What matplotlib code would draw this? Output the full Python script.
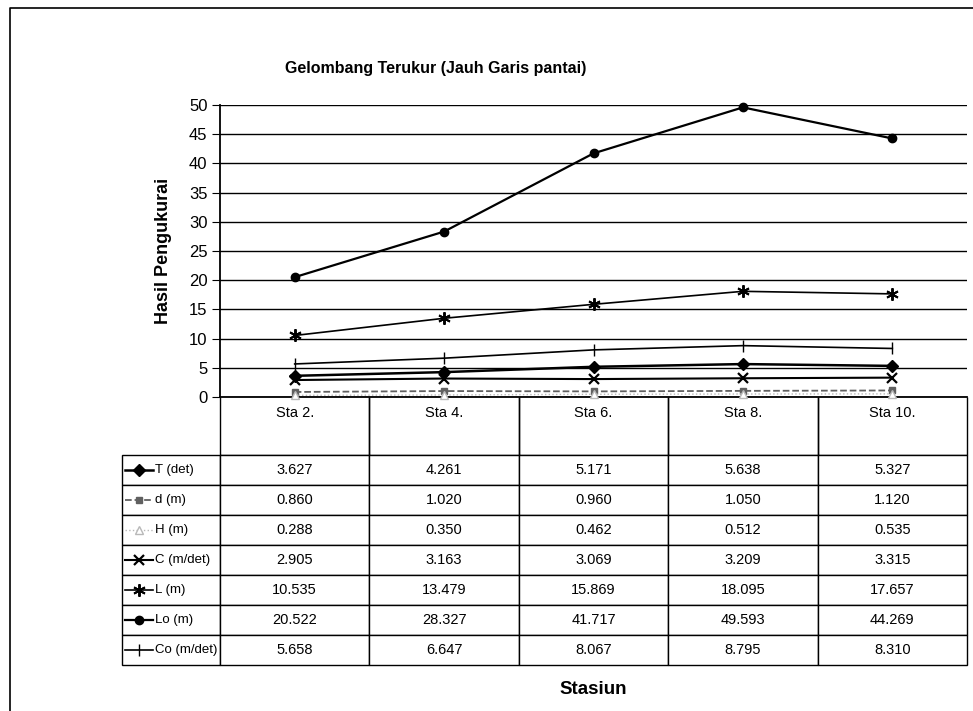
import matplotlib
matplotlib.use("Agg")
from matplotlib import pyplot as plt
from matplotlib.lines import Line2D
import numpy as np

plt.rcParams['font.family'] = ['Liberation Sans', 'DejaVu Sans']

stations = ['Sta 2.', 'Sta 4.', 'Sta 6.', 'Sta 8.', 'Sta 10.']
T_det = [3.627, 4.261, 5.171, 5.638, 5.327]
d_m = [0.860, 1.020, 0.960, 1.050, 1.120]
H_m = [0.288, 0.350, 0.462, 0.512, 0.535]
C_mdet = [2.905, 3.163, 3.069, 3.209, 3.315]
L_m = [10.535, 13.479, 15.869, 18.095, 17.657]
Lo_m = [20.522, 28.327, 41.717, 49.593, 44.269]
Co_mdet = [5.658, 6.647, 8.067, 8.795, 8.310]

names = ['T (det)', 'd (m)', 'H (m)', 'C (m/det)', 'L (m)', 'Lo (m)', 'Co (m/det)']
series = [T_det, d_m, H_m, C_mdet, L_m, Lo_m, Co_mdet]
styles = [
    dict(color='black', marker='D', ms=6, mfc='black', lw=1.8),
    dict(color='#606060', marker='s', ms=5, mfc='#606060', lw=1.3, ls='--'),
    dict(color='#b8b8b8', marker='^', ms=6, mfc='white', lw=1.0, ls=':'),
    dict(color='black', marker='x', ms=7, mew=1.6, lw=1.5),
    dict(color='black', marker=(6, 2, 0), ms=9, mew=1.4, lw=1.2),
    dict(color='black', marker='o', ms=6, mfc='black', lw=1.6),
    dict(color='black', marker='|', ms=9, mew=1.0, lw=1.2),
]

W, H = 973, 711
fig = plt.figure(figsize=(W / 100, H / 100), dpi=100)

# plot area in pixels
px_l, px_r, px_t, px_b = 220, 967, 105, 397
ax = fig.add_axes([px_l / W, 1 - px_b / H, (px_r - px_l) / W, (px_b - px_t) / H])

x = np.arange(len(stations))
for vals, st in zip(series, styles):
    ax.plot(x, vals, **st, clip_on=False, zorder=3)

ax.set_xlim(-0.5, len(stations) - 0.5)
ax.set_ylim(0, 50)
ax.set_yticks(np.arange(0, 51, 5))
ax.set_xticks([])
ax.grid(axis='y', color='black', linewidth=1.0)
ax.set_axisbelow(True)
for s in ['top', 'right']:
    ax.spines[s].set_visible(False)
ax.spines['left'].set_linewidth(1.3)
ax.spines['bottom'].set_linewidth(1.3)
ax.tick_params(axis='y', direction='out', length=6, labelsize=12, pad=3)
ax.set_ylabel('Hasil Pengukurai', fontsize=13, fontweight='bold', labelpad=12)

# data table under the plot
lab_l = 122
hdr_h, row_h = 58, 30
tab_b = px_b + hdr_h + row_h * len(names)
col_w = (px_r - px_l) / len(stations)
cell_text = [[''] + ['%.3f' % v for v in vals] for vals in series]
tab = ax.table(cellText=cell_text, colLabels=[''] * (len(stations) + 1), cellLoc='center',
               bbox=[(lab_l - px_l) / (px_r - px_l), -(tab_b - px_b) / (px_b - px_t),
                     (px_r - lab_l) / (px_r - px_l), (tab_b - px_b) / (px_b - px_t)])
tab.auto_set_font_size(False)
for (r, c), cell in tab.get_celld().items():
    cell.set_height(hdr_h if r == 0 else row_h)
    cell.set_width((px_l - lab_l) if c == 0 else col_w)
    cell.set_linewidth(1.0)
    cell.get_text().set_fontsize(10.5)
    if r == 0 and c == 0:
        cell.visible_edges = ''
    elif r == 0:
        cell.visible_edges = 'LRB'

# station names sit near the top of the header cells
for xi, name in zip(x, stations):
    ax.text(xi, -(413 - px_b) / (px_b - px_t), name, transform=ax.get_xaxis_transform(),
            ha='center', va='center', fontsize=10.5)

# legend keys inside the label column
def fx(p):
    return p / W

def fy(p):
    return 1 - p / H

for i, (name, st) in enumerate(zip(names, styles)):
    yc = px_b + hdr_h + row_h * i + row_h / 2
    key = dict(st)
    key.pop('ls', None)
    fig.add_artist(Line2D([fx(125), fx(139), fx(153)], [fy(yc)] * 3,
                          markevery=[1], ls=st.get('ls', '-'), **key))
    fig.text(fx(155), fy(yc), name, fontsize=9.5, ha='left', va='center')

fig.text(fx(436), fy(68), 'Gelombang Terukur (Jauh Garis pantai)',
         fontsize=11.5, fontweight='bold', ha='center', va='center')
fig.text(fx((px_l + px_r) / 2), fy(690), 'Stasiun', fontsize=13.5,
         fontweight='bold', ha='center', va='center')

# outer chart border
fig.add_artist(Line2D([fx(10), fx(10), fx(973)], [fy(711), fy(8), fy(8)],
                      color='black', lw=1.2))

plt.savefig('out.png', dpi=100)
